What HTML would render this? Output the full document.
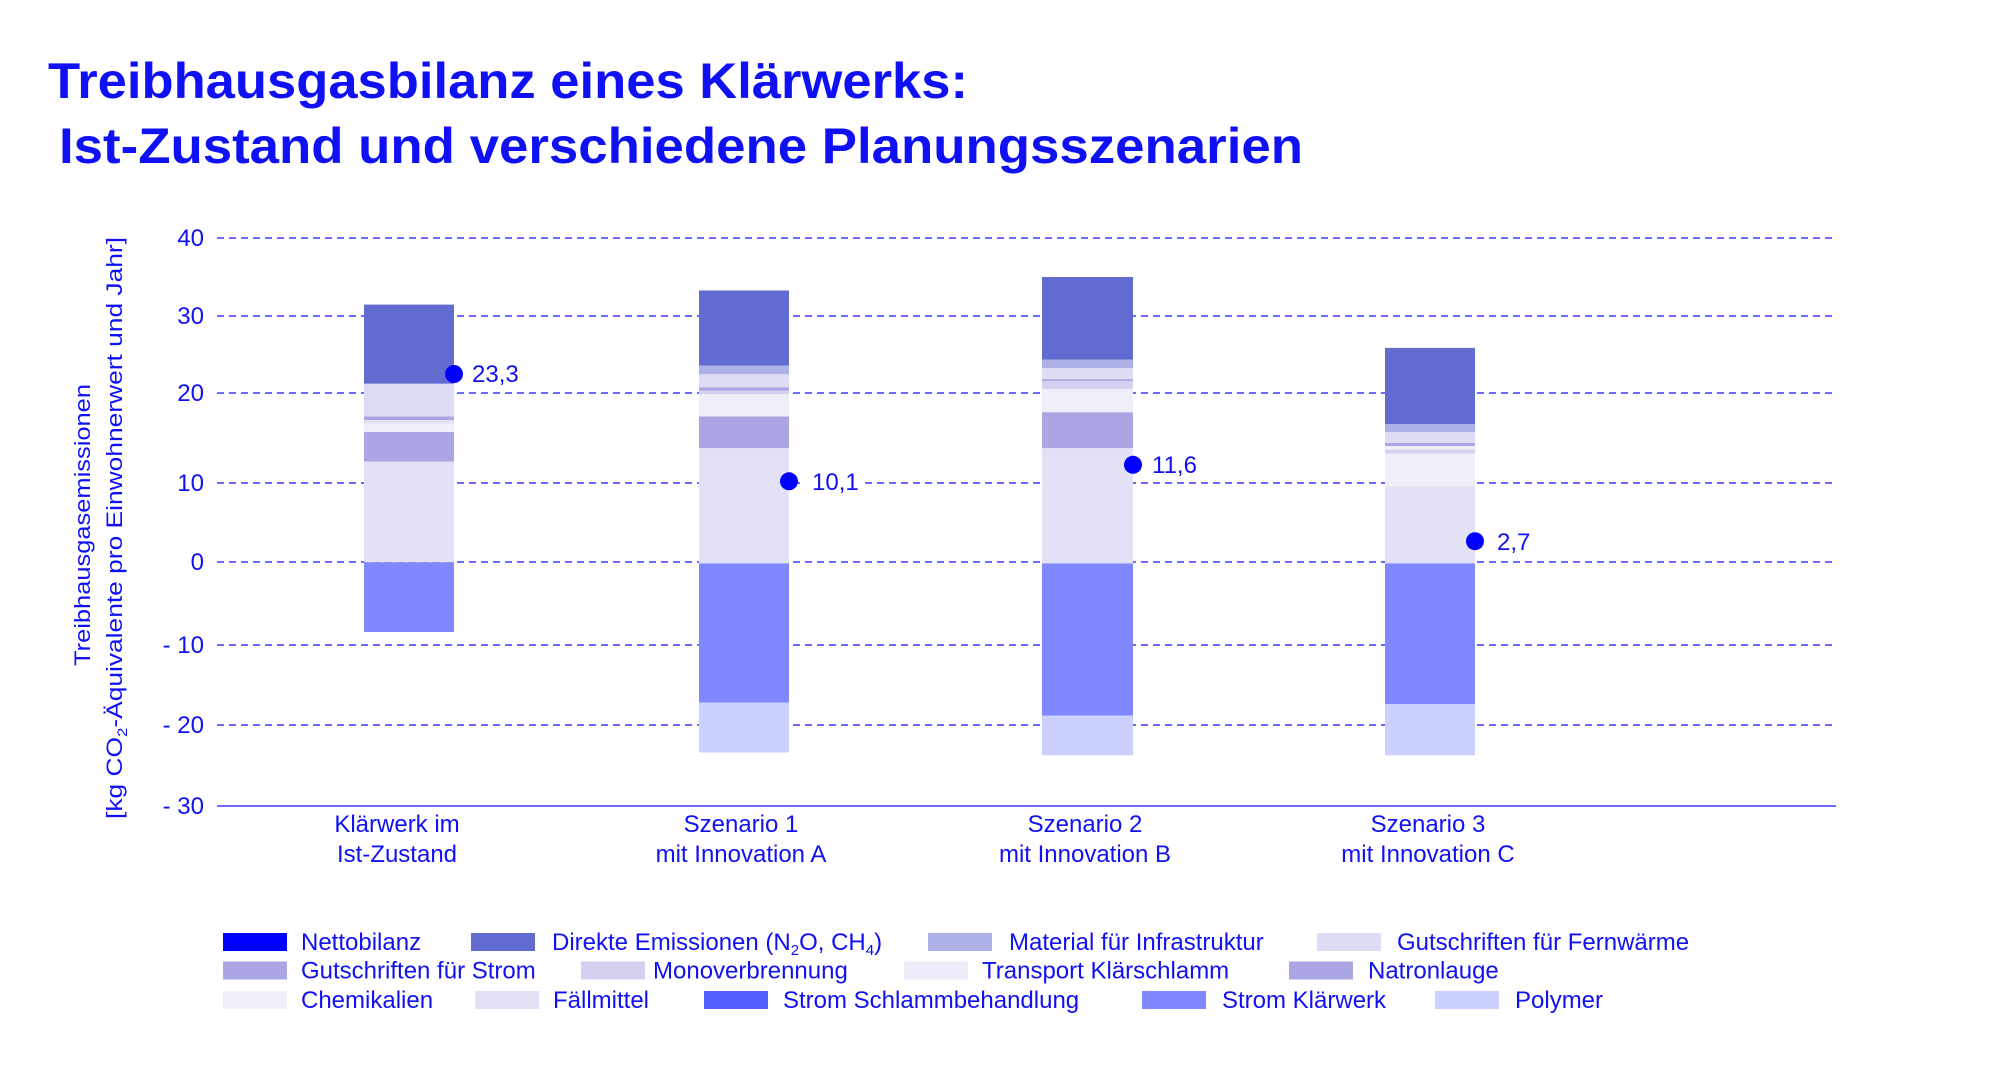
<!DOCTYPE html>
<html><head><meta charset="utf-8"><style>
html,body{margin:0;padding:0;background:#fff;}
svg{display:block;}
text{font-family:"Liberation Sans",sans-serif;fill:#1010f5;}
</style></head><body>
<svg width="2001" height="1089" viewBox="0 0 2001 1089" xmlns="http://www.w3.org/2000/svg">
<text x="48" y="98" font-size="50" font-weight="bold" textLength="920" lengthAdjust="spacingAndGlyphs">Treibhausgasbilanz eines Klärwerks:</text>
<text x="59" y="163" font-size="50" font-weight="bold" textLength="1244" lengthAdjust="spacingAndGlyphs">Ist-Zustand und verschiedene Planungsszenarien</text>

<g stroke="#3a3aff" stroke-width="1.5" stroke-dasharray="7,5">
<line x1="217" y1="238" x2="1836" y2="238"/>
<line x1="217" y1="316" x2="1836" y2="316"/>
<line x1="217" y1="393" x2="1836" y2="393"/>
<line x1="217" y1="483" x2="1836" y2="483"/>
<line x1="217" y1="562" x2="1836" y2="562"/>
<line x1="217" y1="645" x2="1836" y2="645"/>
<line x1="217" y1="725" x2="1836" y2="725"/>
</g>
<line x1="217" y1="806" x2="1836" y2="806" stroke="#3a3aff" stroke-width="1.5"/>

<g font-size="24" text-anchor="end">
<text x="204" y="246">40</text>
<text x="204" y="324">30</text>
<text x="204" y="401">20</text>
<text x="204" y="491">10</text>
<text x="204" y="570">0</text>
<text x="204" y="653">- 10</text>
<text x="204" y="733">- 20</text>
<text x="204" y="814">- 30</text>
</g>

<g font-size="22" text-anchor="middle">
<text transform="translate(90,525) rotate(-90)" textLength="282" lengthAdjust="spacingAndGlyphs">Treibhausgasemissionen</text>
<text transform="translate(122,528) rotate(-90)" textLength="582" lengthAdjust="spacingAndGlyphs">[kg CO<tspan font-size="14" dy="5">2</tspan><tspan dy="-5">-Äquivalente pro Einwohnerwert und Jahr]</tspan></text>
</g>

<!-- Bar 1 -->
<g>
<rect x="364" y="304.6" width="90" height="79.2" fill="#626bd0"/>
<rect x="364" y="383.8" width="90" height="32.7" fill="#dcdcf5"/>
<rect x="364" y="416.5" width="90" height="3.5" fill="#aaa6e4"/>
<rect x="364" y="420" width="90" height="3.6" fill="#e2e1f6"/>
<rect x="364" y="423.6" width="90" height="8.4" fill="#efeffa"/>
<rect x="364" y="432" width="90" height="29.6" fill="#aaa6e4"/>
<rect x="364" y="461.6" width="90" height="100.7" fill="#e2e1f6"/>
<rect x="364" y="562.3" width="90" height="69.7" fill="#8088ff"/>
</g>
<!-- Bar 2 -->
<g>
<rect x="699" y="290.5" width="90" height="75" fill="#626bd0"/>
<rect x="699" y="365.5" width="90" height="8.8" fill="#aeb0e8"/>
<rect x="699" y="374.3" width="90" height="13" fill="#dcdcf5"/>
<rect x="699" y="387.3" width="90" height="3.5" fill="#aaa6e4"/>
<rect x="699" y="390.8" width="90" height="3.6" fill="#d4d0f0"/>
<rect x="699" y="394.4" width="90" height="22.1" fill="#efeffa"/>
<rect x="699" y="416.5" width="90" height="31.7" fill="#aaa6e4"/>
<rect x="699" y="448.2" width="90" height="115.2" fill="#e2e1f6"/>
<rect x="699" y="563.4" width="90" height="139.1" fill="#8088ff"/>
<rect x="699" y="702.5" width="90" height="50" fill="#ccd0ff"/>
</g>
<!-- Bar 3 -->
<g>
<rect x="1042" y="277" width="91" height="82.5" fill="#626bd0"/>
<rect x="1042" y="359.5" width="91" height="8.5" fill="#aeb0e8"/>
<rect x="1042" y="368" width="91" height="11.2" fill="#dcdcf5"/>
<rect x="1042" y="379.2" width="91" height="1.8" fill="#aaa6e4"/>
<rect x="1042" y="381" width="91" height="8" fill="#d4d0f0"/>
<rect x="1042" y="389" width="91" height="23.3" fill="#efeffa"/>
<rect x="1042" y="412.3" width="91" height="35.9" fill="#aaa6e4"/>
<rect x="1042" y="448.2" width="91" height="115.2" fill="#e2e1f6"/>
<rect x="1042" y="563.4" width="91" height="152.1" fill="#8088ff"/>
<rect x="1042" y="715.5" width="91" height="39.8" fill="#ccd0ff"/>
</g>
<!-- Bar 4 -->
<g>
<rect x="1385" y="347.9" width="90" height="76.1" fill="#626bd0"/>
<rect x="1385" y="424" width="90" height="8" fill="#aeb0e8"/>
<rect x="1385" y="432" width="90" height="11" fill="#dcdcf5"/>
<rect x="1385" y="443" width="90" height="3" fill="#aaa6e4"/>
<rect x="1385" y="446" width="90" height="3.6" fill="#efeffa"/>
<rect x="1385" y="449.6" width="90" height="3.9" fill="#d4d0f0"/>
<rect x="1385" y="453.5" width="90" height="33.1" fill="#efeffa"/>
<rect x="1385" y="486.6" width="90" height="76.8" fill="#e2e1f6"/>
<rect x="1385" y="563.4" width="90" height="140.8" fill="#8088ff"/>
<rect x="1385" y="704.2" width="90" height="51.1" fill="#ccd0ff"/>
</g>

<rect x="802" y="470" width="62" height="24" fill="#fff"/>
<g fill="#0000ff">
<circle cx="454" cy="374" r="9"/>
<circle cx="789" cy="481.3" r="9"/>
<circle cx="1133" cy="464.8" r="9"/>
<circle cx="1475" cy="541.2" r="9"/>
</g>
<g font-size="24">
<text x="472" y="382">23,3</text>
<text x="812" y="490">10,1</text>
<text x="1152" y="473">11,6</text>
<text x="1497" y="550">2,7</text>
</g>

<g font-size="24" text-anchor="middle">
<text x="397" y="832">Klärwerk im</text>
<text x="397" y="862">Ist-Zustand</text>
<text x="741" y="832">Szenario 1</text>
<text x="741" y="862">mit Innovation A</text>
<text x="1085" y="832">Szenario 2</text>
<text x="1085" y="862">mit Innovation B</text>
<text x="1428" y="832">Szenario 3</text>
<text x="1428" y="862">mit Innovation C</text>
</g>

<!-- Legend -->
<g font-size="24">
<rect x="223" y="933" width="64" height="18" fill="#0000ff"/><text x="301" y="950">Nettobilanz</text>
<rect x="471" y="933" width="64" height="18" fill="#626bd0"/><text x="552" y="950">Direkte Emissionen (N<tspan font-size="15" dy="5">2</tspan><tspan dy="-5">O, CH</tspan><tspan font-size="15" dy="5">4</tspan><tspan dy="-5">)</tspan></text>
<rect x="928" y="933" width="64" height="18" fill="#aeb0e8"/><text x="1009" y="950">Material für Infrastruktur</text>
<rect x="1317" y="933" width="64" height="18" fill="#dcdcf5"/><text x="1397" y="950">Gutschriften für Fernwärme</text>

<rect x="223" y="961.5" width="64" height="18" fill="#aaa6e4"/><text x="301" y="978.5">Gutschriften für Strom</text>
<rect x="581" y="961.5" width="64" height="18" fill="#d4d0f0"/><text x="653" y="978.5">Monoverbrennung</text>
<rect x="904" y="961.5" width="64" height="18" fill="#ececfa"/><text x="982" y="978.5">Transport Klärschlamm</text>
<rect x="1289" y="961.5" width="64" height="18" fill="#aaa6e4"/><text x="1368" y="978.5">Natronlauge</text>

<rect x="223" y="991" width="64" height="18" fill="#efeffa"/><text x="301" y="1008">Chemikalien</text>
<rect x="475" y="991" width="64" height="18" fill="#e2e1f6"/><text x="553" y="1008">Fällmittel</text>
<rect x="704" y="991" width="64" height="18" fill="#5060ff"/><text x="783" y="1008">Strom Schlammbehandlung</text>
<rect x="1142" y="991" width="64" height="18" fill="#8088ff"/><text x="1222" y="1008">Strom Klärwerk</text>
<rect x="1435" y="991" width="64" height="18" fill="#ccd0ff"/><text x="1515" y="1008">Polymer</text>
</g>
</svg>
</body></html>
